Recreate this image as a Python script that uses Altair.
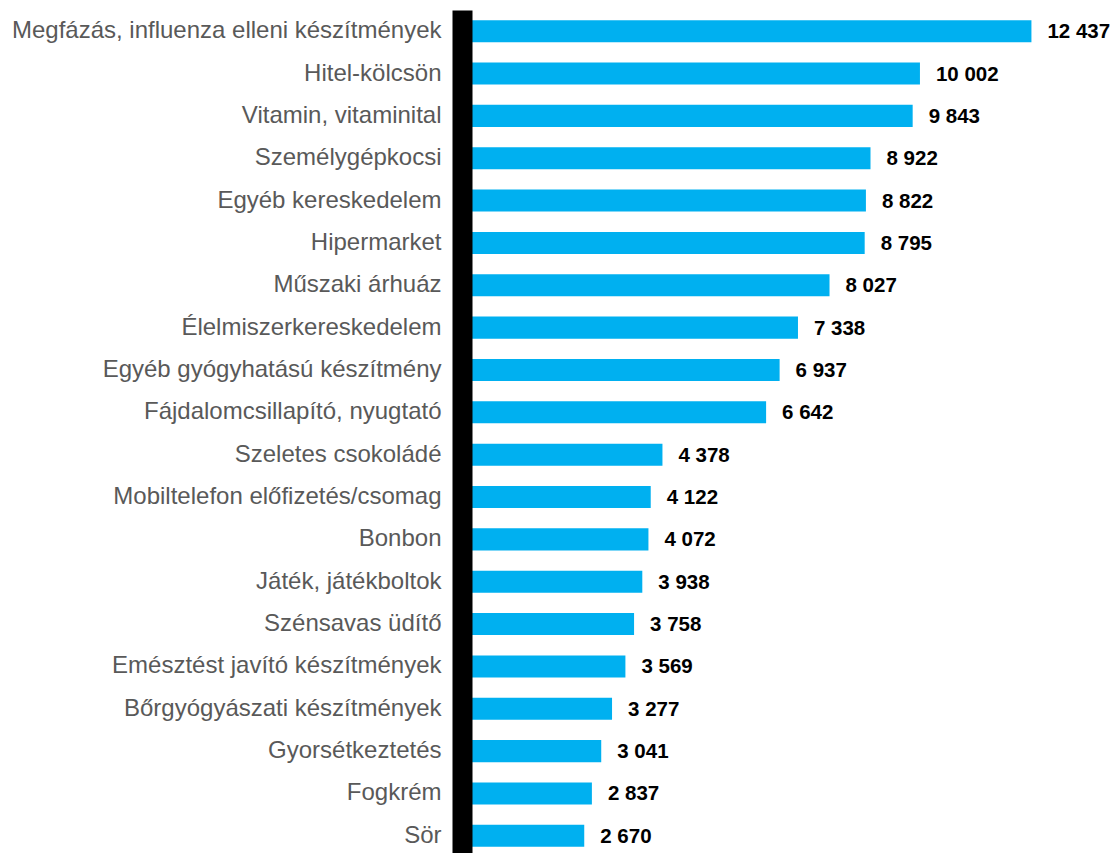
import altair as alt
import pandas as pd

categories = [
    "Megfázás, influenza elleni készítmények",
    "Hitel-kölcsön",
    "Vitamin, vitaminital",
    "Személygépkocsi",
    "Egyéb kereskedelem",
    "Hipermarket",
    "Műszaki árhuáz",
    "Élelmiszerkereskedelem",
    "Egyéb gyógyhatású készítmény",
    "Fájdalomcsillapító, nyugtató",
    "Szeletes csokoládé",
    "Mobiltelefon előfizetés/csomag",
    "Bonbon",
    "Játék, játékboltok",
    "Szénsavas üdítő",
    "Emésztést javító készítmények",
    "Bőrgyógyászati készítmények",
    "Gyorsétkeztetés",
    "Fogkrém",
    "Sör",
]
values = [12437, 10002, 9843, 8922, 8822, 8795, 8027, 7338, 6937, 6642,
          4378, 4122, 4072, 3938, 3758, 3569, 3277, 3041, 2837, 2670]
labels = [f"{v:,}".replace(",", " ") for v in values]

df = pd.DataFrame({"cat": categories, "val": values, "lab": labels})

W = 641
H = 847

y = alt.Y("cat:N", sort=categories,
          scale=alt.Scale(paddingInner=0.48, paddingOuter=0.24),
          axis=alt.Axis(title=None, ticks=False, tickSize=0, labelPadding=21,
                        labelFont="Liberation Sans", labelFontSize=24,
                        labelColor="#595959", domainColor="black",
                        domainWidth=20, zindex=1, labelLimit=600))
x = alt.X("val:Q", scale=alt.Scale(domain=[0, 14000], nice=False),
          axis=None)

bars = alt.Chart(df).mark_bar(color="#00B0F0").encode(x=x, y=y)
text = alt.Chart(df).mark_text(align="left", baseline="middle", dx=16, dy=1,
                               font="Liberation Sans", fontSize=20.5,
                               fontWeight="bold", color="black").encode(
    x=x, y=y, text="lab:N")

chart = (bars + text).properties(
    width=W, height=H,
    autosize=alt.AutoSizeParams(type="none"),
    padding={"left": 454, "top": 2, "right": 8, "bottom": 0},
).configure_view(stroke=None)

chart.save("out.html", embed_options={"renderer": "svg", "actions": False})
